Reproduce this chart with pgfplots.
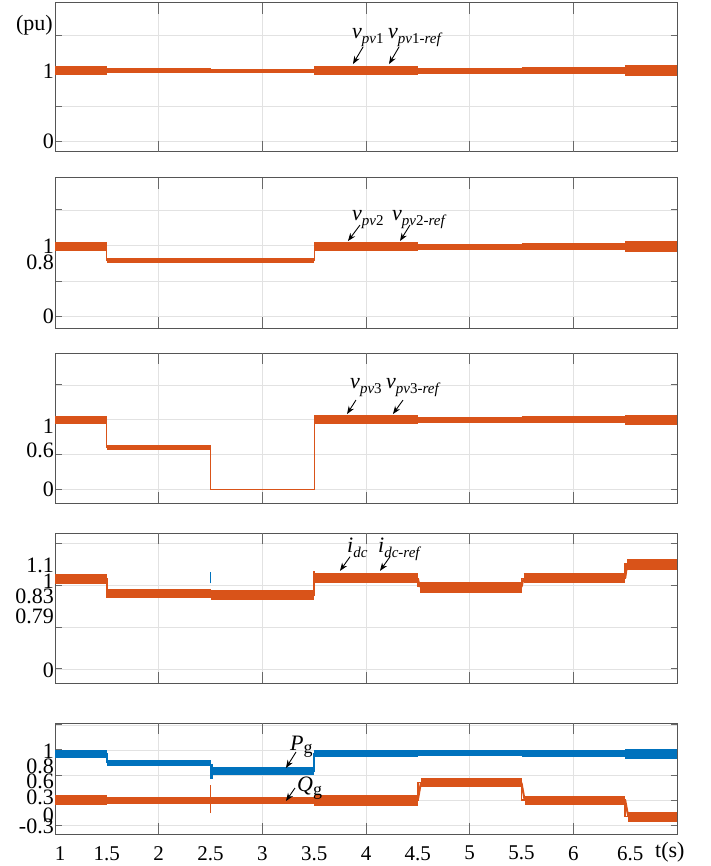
\documentclass[border=0pt]{standalone}
\usepackage{fontspec}
\setmainfont{Liberation Serif}
\usepackage{pgfplots}
\pgfplotsset{compat=1.18}
\usetikzlibrary{arrows.meta}
\definecolor{orangec}{RGB}{217,83,25}
\definecolor{bluec}{RGB}{0,114,189}
\definecolor{gridc}{RGB}{226,226,226}
\definecolor{framec}{RGB}{85,85,85}
\definecolor{tickc}{RGB}{105,105,105}
\newcommand{\fs}[1]{\fontsize{#1}{#1}\selectfont}
\newcommand{\sub}[1]{\raisebox{-5pt}{\fs{15}#1}}
\tikzset{
  ann/.style={-{Stealth[length=8pt,width=6pt]}, line width=0.9pt, black},
  annt/.style={anchor=base west, inner sep=0pt, font=\fs{22}},
  xl/.style={anchor=north, inner sep=0pt, font=\fs{21}, yshift=-12pt},
}
\pgfplotsset{
  panel/.style={
    scale only axis, width=622pt, xmin=1, xmax=7,
    axis line style={draw=framec, line width=1pt},
    tick align=inside, tick pos=both,
    xtick=\empty,
    extra x ticks={2,3,4,5,6}, extra x tick labels={},
    extra x tick style={major tick length=11pt, grid=major},
    major tick length=6.5pt,
    yticklabels={}, ymajorgrids,
    major grid style={draw=gridc, line width=0.8pt},
    every tick/.style={draw=tickc, line width=1pt},
    extra y tick style={major tick length=0pt, grid=none},
    yticklabel style={font=\fs{22}, inner sep=1pt},
    /pgf/number format/assume math mode=true,
    clip=false,
  },
  band/.style={orangec, line cap=butt, line width=#1, forget plot},
  bandb/.style={bluec, line cap=butt, line width=#1, forget plot},
}
\begin{document}
\begin{tikzpicture}
\useasboundingbox (0pt,0pt) rectangle (710pt,-866pt);

% ---------- panel 1 : v_pv1 ----------
\begin{axis}[panel, at={(55pt,-3pt)}, anchor=north west, height=149pt,
  ymin=-0.145, ymax=1.955, ytick={0,0.5,1,1.5},
  extra y ticks={0,1}, extra y tick labels={0,1}]
\addplot[orangec, line width=1pt, const plot, forget plot] coordinates {(1,1)(7,1)};
\addplot[band=9pt]  coordinates {(1,1)(1.5,1)};
\addplot[band=5pt]  coordinates {(1.5,1)(2.5,1)};
\addplot[band=4.5pt]coordinates {(2.5,1)(3.5,1)};
\addplot[band=9pt]  coordinates {(3.5,1)(4.5,1)};
\addplot[band=6pt]  coordinates {(4.5,1)(5.5,1)};
\addplot[band=7pt]  coordinates {(5.5,1)(6.5,1)};
\addplot[band=11pt] coordinates {(6.5,1)(7,1)};
\node[annt] at (axis cs:3.865,1.46) {\textit{v}\sub{\textit{pv}1}};
\node[annt] at (axis cs:4.212,1.46) {\textit{v}\sub{\textit{pv}1\textit{-ref}}};
\draw[ann] (axis cs:3.971,1.334) -- (axis cs:3.874,1.094);
\draw[ann] (axis cs:4.318,1.334) -- (axis cs:4.222,1.094);
\end{axis}

% ---------- panel 2 : v_pv2 ----------
\begin{axis}[panel, at={(55pt,-178pt)}, anchor=north west, height=150pt,
  ymin=-0.16, ymax=1.95, ytick={0,0.5,1,1.5},
  extra y ticks={0,0.76,0.99}, extra y tick labels={0,0.8,1}]
\addplot[orangec, line width=1pt, const plot, forget plot] coordinates {(1,0.99)(1.5,0.79)(3.5,0.98)(7,0.98)};
\addplot[band=9pt]  coordinates {(1,0.99)(1.5,0.99)};
\addplot[band=5pt]  coordinates {(1.5,0.79)(3.5,0.79)};
\addplot[band=9pt]  coordinates {(3.5,0.98)(4.5,0.98)};
\addplot[band=6pt]  coordinates {(4.5,0.98)(5.5,0.98)};
\addplot[band=7pt]  coordinates {(5.5,0.98)(6.5,0.98)};
\addplot[band=11pt] coordinates {(6.5,0.98)(7,0.98)};
\node[annt] at (axis cs:3.865,1.355) {\textit{v}\sub{\textit{pv}2}};
\node[annt] at (axis cs:4.251,1.355) {\textit{v}\sub{\textit{pv}2\textit{-ref}}};
\draw[ann] (axis cs:3.942,1.288) -- (axis cs:3.826,1.063);
\draw[ann] (axis cs:4.424,1.288) -- (axis cs:4.328,1.063);
\end{axis}

% ---------- panel 3 : v_pv3 ----------
\begin{axis}[panel, at={(55pt,-353pt)}, anchor=north west, height=150pt,
  ymin=-0.197, ymax=1.96, ytick={0,0.5,1,1.5},
  extra y ticks={0,0.565,0.91}, extra y tick labels={0,0.6,1}]
\addplot[orangec, line width=1.2pt, const plot, forget plot] coordinates {(1,1)(1.5,0.6)(2.5,0)(3.5,1)(7,1)};
\addplot[band=8pt]  coordinates {(1,1)(1.5,1)};
\addplot[band=4.5pt]coordinates {(1.5,0.6)(2.5,0.6)};
\addplot[band=9pt]  coordinates {(3.5,1)(4.5,1)};
\addplot[band=6pt]  coordinates {(4.5,1)(5.5,1)};
\addplot[band=7pt]  coordinates {(5.5,1)(6.5,1)};
\addplot[band=10pt] coordinates {(6.5,1)(7,1)};
\node[annt] at (axis cs:3.846,1.455) {\textit{v}\sub{\textit{pv}3}};
\node[annt] at (axis cs:4.193,1.455) {\textit{v}\sub{\textit{pv}3\textit{-ref}}};
\draw[ann] (axis cs:3.903,1.283) -- (axis cs:3.817,1.082);
\draw[ann] (axis cs:4.357,1.283) -- (axis cs:4.260,1.082);
\end{axis}

% ---------- panel 4 : i_dc ----------
\begin{axis}[panel, at={(55pt,-533pt)}, anchor=north west, height=150pt,
  ymin=-0.167, ymax=1.62, ytick={0,0.5,1,1.5},
  extra y ticks={-0.02,0.63,0.87,1.05,1.24}, extra y tick labels={0,0.79,0.83,1,1.1}]
\addplot[orangec, line width=1.5pt, const plot, forget plot] coordinates {(1,1.07)(1.5,0.90)(2.5,0.88)(3.5,1.08)(4.5,0.98)(5.5,1.08)(6.5,1.25)(7,1.25)};
\addplot[band=10pt] coordinates {(1,1.07)(1.5,1.07)};
\addplot[band=9pt]  coordinates {(1.5,0.90)(2.5,0.90)};
\addplot[band=10pt] coordinates {(2.5,0.88)(3.5,0.88)};
\addplot[band=10pt] coordinates {(3.5,1.08)(4.5,1.08)};
\addplot[band=11pt] coordinates {(4.52,0.976)(5.5,0.976)};
\addplot[band=10pt] coordinates {(5.52,1.08)(6.5,1.08)};
\addplot[band=11pt] coordinates {(6.52,1.25)(7,1.25)};
\addplot[orangec, line width=2pt, forget plot] coordinates {(4.5,1.08)(4.52,0.976)};
\addplot[orangec, line width=2pt, forget plot] coordinates {(5.5,0.976)(5.52,1.08)};
\addplot[orangec, line width=2pt, forget plot] coordinates {(6.5,1.08)(6.52,1.25)};
\addplot[orangec, line width=1.5pt, forget plot] coordinates {(1.5,1.0)(1.5,0.85)};
\addplot[orangec, line width=1.5pt, forget plot] coordinates {(3.5,0.95)(3.5,1.17)};
\addplot[bluec, line width=1.5pt, forget plot] coordinates {(2.5,1.02)(2.5,1.15)};
\node[annt] at (axis cs:3.817,1.384) {\textit{i}\sub{\textit{dc}}};
\node[annt] at (axis cs:4.116,1.384) {\textit{i}\sub{\textit{dc-ref}}};
\draw[ann] (axis cs:3.846,1.337) -- (axis cs:3.749,1.169);
\draw[ann] (axis cs:4.231,1.337) -- (axis cs:4.135,1.169);
\end{axis}

% ---------- panel 5 : P_g, Q_g ----------
\begin{axis}[panel, at={(55pt,-723.3pt)}, anchor=north west, height=110.7pt,
  ymin=-0.244, ymax=1.527, ytick={-0.1,0.3,0.7,1.1,1.5},
  extra y ticks={-0.127,0.06,0.337,0.593,0.833,1.073}, extra y tick labels={-0.3,0,0.3,0.6,0.8,1}]
% Q_g
\addplot[orangec, line width=1.5pt, const plot, forget plot] coordinates {(1,0.3)(4.5,0.577)(5.5,0.3)(6.5,0.033)(7,0.033)};
\addplot[band=10pt] coordinates {(1,0.3)(1.5,0.3)};
\addplot[band=7pt]  coordinates {(1.5,0.3)(3.5,0.3)};
\addplot[band=11pt] coordinates {(3.5,0.3)(4.5,0.3)};
\addplot[band=9pt]  coordinates {(4.53,0.577)(5.5,0.577)};
\addplot[band=9pt]  coordinates {(5.53,0.3)(6.5,0.3)};
\addplot[band=10pt] coordinates {(6.53,0.033)(7,0.033)};
\addplot[orangec, line width=2pt, forget plot] coordinates {(4.5,0.3)(4.53,0.577)};
\addplot[orangec, line width=2pt, forget plot] coordinates {(5.5,0.577)(5.53,0.3)};
\addplot[orangec, line width=2pt, forget plot] coordinates {(6.5,0.3)(6.53,0.033)};
\addplot[orangec, line width=1.5pt, forget plot] coordinates {(2.5,0.09)(2.5,0.54)};
% P_g
\addplot[bluec, line width=1.5pt, const plot, forget plot] coordinates {(1,1.036)(1.5,0.897)(2.5,0.764)(3.5,1.047)(7,1.047)};
\addplot[bandb=8pt]  coordinates {(1,1.036)(1.5,1.036)};
\addplot[bandb=6pt]  coordinates {(1.5,0.897)(2.5,0.897)};
\addplot[bandb=8pt]  coordinates {(2.5,0.764)(3.5,0.764)};
\addplot[bandb=7pt]  coordinates {(3.5,1.047)(4.5,1.047)};
\addplot[bandb=6pt]  coordinates {(4.5,1.05)(5.5,1.05)};
\addplot[bandb=7pt]  coordinates {(5.5,1.045)(6.5,1.045)};
\addplot[bandb=10pt] coordinates {(6.5,1.036)(7,1.036)};
\addplot[bluec, line width=3pt, forget plot] coordinates {(2.51,0.88)(2.51,0.64)};
\node[annt] at (axis cs:3.267,1.1) {\textit{P}\raisebox{-4pt}{\fs{18}g}};
\node[annt] at (axis cs:3.334,0.43) {\textit{Q}\raisebox{-4pt}{\fs{18}g}};
\draw[ann] (axis cs:3.325,1.068) -- (axis cs:3.228,0.812);
\draw[ann] (axis cs:3.315,0.492) -- (axis cs:3.228,0.284);
% time-axis labels
\node[xl] at (axis cs:1.05,-0.244) {1};
\node[xl] at (axis cs:1.5,-0.244) {1.5};
\node[xl] at (axis cs:2,-0.244) {2};
\node[xl] at (axis cs:2.5,-0.244) {2.5};
\node[xl] at (axis cs:3,-0.244) {3};
\node[xl] at (axis cs:3.5,-0.244) {3.5};
\node[xl] at (axis cs:4,-0.244) {4};
\node[xl] at (axis cs:4.5,-0.244) {4.5};
\node[xl] at (axis cs:5,-0.244) {5};
\node[xl] at (axis cs:5.5,-0.244) {5.5};
\node[xl] at (axis cs:6,-0.244) {6};
\node[xl] at (axis cs:6.55,-0.244) {6.5};
\end{axis}

\node[anchor=east, inner sep=0pt, font=\fs{22}] at (53pt,-25pt) {(pu)};
\node[anchor=north west, inner sep=0pt, font=\fs{22}] at (655pt,-842pt) {t(s)};
\end{tikzpicture}
\end{document}
